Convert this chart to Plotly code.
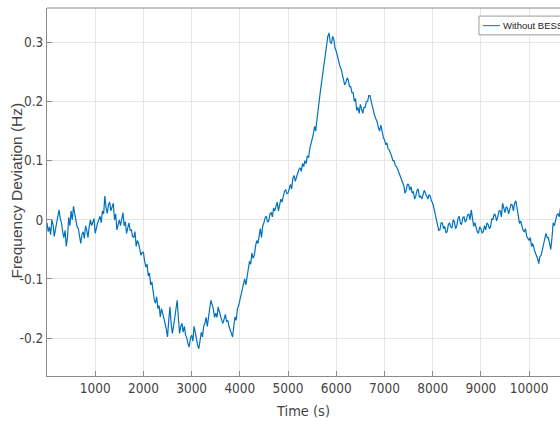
import plotly.graph_objects as go

# Time samples (s) and frequency deviation (Hz)
time_s = list(range(0, 10725, 25))
freq_dev = [
    -0.005, -0.020, -0.012, -0.025, 0.000, -0.008, -0.028, -0.015, -0.010, 0.005,
    0.017, 0.002, -0.005, -0.020, -0.030, -0.018, -0.045, -0.030, 0.004, -0.010,
    0.015, 0.000, 0.023, 0.010, 0.000, -0.012, -0.015, -0.030, -0.040, -0.025,
    -0.020, -0.032, -0.010, -0.018, -0.030, -0.012, 0.000, -0.010, -0.005, 0.002,
    -0.023, -0.010, -0.005, 0.000, 0.006, -0.005, 0.015, 0.010, 0.040, 0.020,
    0.011, 0.025, 0.030, 0.015, 0.023, 0.028, 0.000, 0.010, -0.017, -0.005,
    0.000, -0.010, 0.006, 0.012, -0.010, -0.003, -0.023, -0.010, -0.005, -0.018,
    -0.017, -0.028, -0.030, -0.020, -0.045, -0.035, -0.040, -0.050, -0.060, -0.055,
    -0.055, -0.070, -0.080, -0.075, -0.095, -0.090, -0.110, -0.105, -0.125, -0.135,
    -0.141, -0.130, -0.150, -0.145, -0.164, -0.150, -0.158, -0.170, -0.175, -0.185,
    -0.198, -0.170, -0.147, -0.175, -0.192, -0.180, -0.165, -0.150, -0.136, -0.165,
    -0.192, -0.180, -0.175, -0.190, -0.180, -0.195, -0.200, -0.210, -0.215, -0.200,
    -0.195, -0.205, -0.180, -0.190, -0.205, -0.212, -0.218, -0.200, -0.190, -0.198,
    -0.180, -0.175, -0.165, -0.180, -0.160, -0.150, -0.136, -0.145, -0.150, -0.165,
    -0.158, -0.165, -0.147, -0.155, -0.165, -0.170, -0.175, -0.168, -0.160, -0.172,
    -0.170, -0.180, -0.185, -0.190, -0.198, -0.180, -0.164, -0.170, -0.150, -0.145,
    -0.136, -0.130, -0.120, -0.108, -0.100, -0.110, -0.095, -0.080, -0.070, -0.075,
    -0.056, -0.065, -0.060, -0.045, -0.035, -0.040, -0.025, -0.015, -0.030, -0.010,
    -0.005, 0.004, 0.006, -0.004, -0.002, 0.010, 0.012, 0.005, 0.020, 0.015,
    0.023, 0.030, 0.015, 0.028, 0.035, 0.030, 0.040, 0.048, 0.051, 0.044,
    0.045, 0.055, 0.060, 0.052, 0.070, 0.075, 0.065, 0.072, 0.080, 0.085,
    0.088, 0.082, 0.095, 0.090, 0.100, 0.095, 0.108, 0.105, 0.120, 0.128,
    0.135, 0.145, 0.158, 0.150, 0.170, 0.190, 0.205, 0.220, 0.235, 0.250,
    0.265, 0.280, 0.300, 0.310, 0.316, 0.300, 0.298, 0.310, 0.305, 0.290,
    0.285, 0.275, 0.270, 0.260, 0.255, 0.245, 0.240, 0.228, 0.232, 0.240,
    0.236, 0.225, 0.225, 0.215, 0.215, 0.200, 0.205, 0.185, 0.190, 0.180,
    0.195, 0.185, 0.180, 0.190, 0.190, 0.200, 0.200, 0.210, 0.210, 0.200,
    0.190, 0.182, 0.175, 0.170, 0.165, 0.155, 0.150, 0.160, 0.147, 0.140,
    0.135, 0.128, 0.130, 0.120, 0.118, 0.110, 0.107, 0.100, 0.100, 0.092,
    0.090, 0.085, 0.080, 0.072, 0.070, 0.062, 0.058, 0.045, 0.050, 0.060,
    0.060, 0.050, 0.056, 0.045, 0.048, 0.035, 0.040, 0.050, 0.052, 0.038,
    0.040, 0.035, 0.045, 0.050, 0.045, 0.038, 0.035, 0.042, 0.040, 0.032,
    0.028, 0.020, 0.010, -0.002, -0.010, -0.018, -0.017, -0.005, -0.005, -0.015,
    -0.011, -0.022, -0.020, -0.008, -0.005, -0.012, -0.014, 0.000, -0.003, -0.015,
    -0.010, 0.002, 0.006, -0.006, -0.008, 0.004, 0.005, -0.004, 0.000, 0.008,
    0.010, 0.000, 0.017, 0.005, -0.011, -0.005, -0.015, -0.020, -0.023, -0.012,
    -0.015, -0.022, -0.020, -0.010, -0.017, -0.005, -0.008, -0.015, -0.012, 0.002,
    0.000, 0.010, 0.008, -0.002, 0.005, 0.015, 0.015, 0.005, 0.028, 0.018,
    0.012, 0.022, 0.020, 0.010, 0.017, 0.026, 0.025, 0.015, 0.028, 0.032,
    0.020, 0.005, -0.006, -0.002, -0.010, -0.018, -0.020, -0.015, -0.028, -0.032,
    -0.035, -0.030, -0.045, -0.040, -0.050, -0.055, -0.060, -0.065, -0.074, -0.062,
    -0.060, -0.050, -0.045, -0.035, -0.023, -0.030, -0.030, -0.040, -0.050, -0.030,
    -0.005, -0.010, 0.000, 0.008, 0.010, 0.005, 0.020, 0.015, 0.025,
]
series_name = "Without BESS"
x_title = "Time (s)"
y_title = "Frequency Deviation (Hz)"

x_tick_vals = [1000, 2000, 3000, 4000, 5000, 6000, 7000, 8000, 9000, 10000]
x_tick_text = ["1000", "2000", "3000", "4000", "5000", "6000", "7000", "8000", "9000", "10000"]
y_tick_vals = [-0.2, -0.1, 0, 0.1, 0.2, 0.3]
y_tick_text = ["-0.2", "-0.1", "0", "0.1", "0.2", "0.3"]

narrow = "Liberation Sans Narrow, Arial Narrow, DejaVu Sans Condensed, Liberation Sans, Arial, sans-serif"
regular = "Liberation Sans, Arial, Helvetica, sans-serif"
axis_color = "#8a8a8a"
grid_color = "#e6e6e6"
text_color = "#444444"
line_color = "#0072BD"

n = min(len(time_s), len(freq_dev))

fig = go.Figure()
fig.add_trace(go.Scatter(
    x=time_s[:n], y=freq_dev[:n], mode="lines", name=series_name,
    line=dict(color=line_color, width=1.2),
    showlegend=False,
))

# Legend drawn as a box, a line sample and a text label (top right, cut by the frame)
legend_shapes = [
    dict(type="rect", xref="paper", yref="paper", x0=0.842, x1=1.2, y0=0.927, y1=0.978,
         line=dict(color="#9a9a9a", width=1), fillcolor="white", layer="above"),
    dict(type="line", xref="paper", yref="paper", x0=0.850, x1=0.883, y0=0.952, y1=0.952,
         line=dict(color=line_color, width=1), layer="above"),
]

fig.update_layout(
    template="none",
    width=560, height=421,
    margin=dict(l=47, r=0, t=8, b=45, pad=0, autoexpand=False),
    paper_bgcolor="white", plot_bgcolor="white",
    font=dict(family=regular, size=11, color=text_color),
    showlegend=False,
    xaxis=dict(
        automargin=False,
        range=[0, 10641], tickvals=x_tick_vals, ticktext=x_tick_text,
        showgrid=True, gridcolor=grid_color, gridwidth=1,
        showline=True, linecolor=axis_color, linewidth=1, mirror=False,
        ticks="inside", ticklen=5, tickcolor=axis_color,
        zeroline=False, ticklabelstandoff=0,
        title=dict(text=x_title, font=dict(family=narrow, size=14.5, color=text_color), standoff=10),
        tickfont=dict(family=narrow, size=13.5, color=text_color),
    ),
    yaxis=dict(
        automargin=False,
        range=[-0.264, 0.358], tickvals=y_tick_vals, ticktext=y_tick_text,
        showgrid=True, gridcolor=grid_color, gridwidth=1,
        showline=True, linecolor=axis_color, linewidth=1, mirror=False,
        ticks="inside", ticklen=5, tickcolor=axis_color,
        zeroline=False,
        tickfont=dict(family=narrow, size=13.5, color=text_color),
    ),
    shapes=[dict(type="line", xref="paper", yref="paper", x0=0, x1=1, y0=1, y1=1,
                 line=dict(color=axis_color, width=1))] + legend_shapes,
    annotations=[
        dict(text=series_name, xref="paper", yref="paper", x=0.885, y=0.952,
             xanchor="left", yanchor="middle", showarrow=False,
             font=dict(family=regular, size=9.5, color="#222222")),
        dict(text=y_title, xref="paper", yref="paper", x=-0.0585, y=0.504,
             xanchor="center", yanchor="middle", textangle=-90, showarrow=False,
             font=dict(family=regular, size=15.5, color=text_color)),
    ],
)

fig.write_html(
    "out.html",
    config={"displayModeBar": False},
    post_script="document.body.style.margin='0';document.body.style.overflow='hidden';",
)
